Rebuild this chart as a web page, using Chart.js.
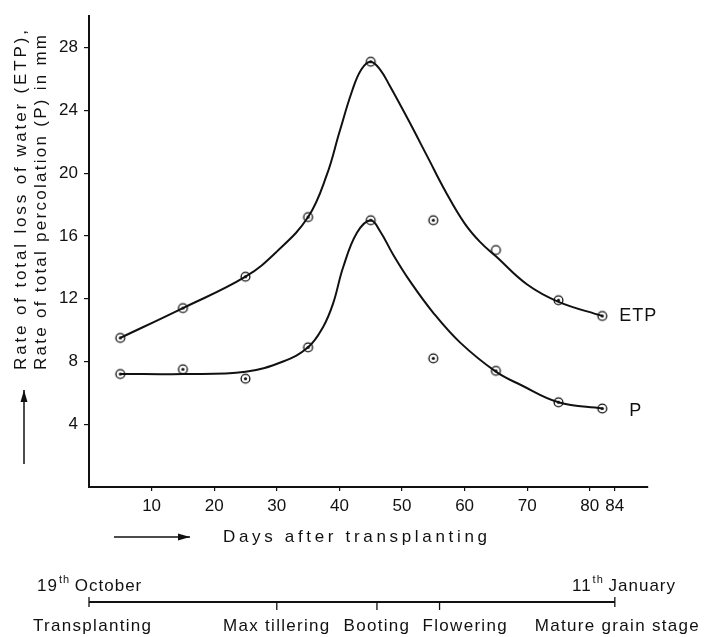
<!DOCTYPE html>
<html>
<head>
<meta charset="utf-8">
<script src="https://cdn.jsdelivr.net/npm/chart.js@4"></script>
<style>
  html, body { margin: 0; padding: 0; background: #fff; }
  canvas { display: block; }
</style>
</head>
<body>
<canvas id="chart" width="705" height="637"></canvas>
<script>
// observed values (days after transplanting)
const days = [5, 15, 25, 35, 45, 55, 65, 75, 82];
const etpObserved = [9.5, 11.4, 13.4, 17.2, 27.1, 17.0, 15.1, 11.9, 10.9];
const pObserved = [7.2, 7.5, 6.9, 8.9, 17.0, 8.2, 7.4, 5.4, 5.0];
const etpOpenDays = [65];

// fitted curves
const etpCurveDays = [5, 15, 25, 30, 35, 38, 40, 42, 43.5, 45, 46.5, 48, 51, 54, 57, 60, 62.5, 65, 70, 75, 82];
const etpCurveVals = [9.5, 11.4, 13.4, 15.0, 17.2, 19.9, 22.6, 25.2, 26.6, 27.1, 26.6, 25.6, 23.4, 21.1, 18.8, 16.8, 15.6, 14.7, 12.9, 11.8, 10.9];
const pCurveDays = [5, 15, 25, 31, 35, 37.4, 39, 40.6, 42.8, 45, 46.5, 48.6, 51.3, 55, 59.3, 65, 69, 75, 82];
const pCurveVals = [7.2, 7.2, 7.35, 8.0, 8.9, 10.2, 11.7, 14.0, 16.2, 17.0, 16.3, 14.8, 13.1, 11.1, 9.2, 7.35, 6.5, 5.4, 5.0];

const xTicks = [10, 20, 30, 40, 50, 60, 70, 80, 84];
const yTicks = [4, 8, 12, 16, 20, 24, 28];

const stageDays = [0, 30, 46, 56, 84];
const stageNames = ["Transplanting", "Max tillering", "Booting", "Flowering", "Mature grain stage"];
const startDate = ["19", "th", "October"];
const endDate = ["11", "th", "January"];

const ink = "#111";
const FONT = '"Liberation Sans", Arial, sans-serif';

function pts(xs, ys) {
  return xs.map((x, i) => ({ x: x, y: ys[i] }));
}

function marker(dot) {
  const c = document.createElement("canvas");
  c.width = 13; c.height = 13;
  const g = c.getContext("2d");
  g.strokeStyle = ink;
  g.lineWidth = 1.3;
  g.beginPath(); g.arc(6.5, 6.5, 4.4, 0, Math.PI * 2); g.stroke();
  if (dot) {
    g.fillStyle = ink;
    g.beginPath(); g.arc(6.5, 6.5, 1.6, 0, Math.PI * 2); g.fill();
  }
  return c;
}
const dotMark = marker(true);
const openMark = marker(false);

function arrow(ctx, x1, y1, x2, y2) {
  const a = Math.atan2(y2 - y1, x2 - x1);
  ctx.lineWidth = 1.5;
  ctx.beginPath(); ctx.moveTo(x1, y1); ctx.lineTo(x2, y2); ctx.stroke();
  ctx.beginPath();
  ctx.moveTo(x2, y2);
  ctx.lineTo(x2 - 12 * Math.cos(a) + 3.5 * Math.sin(a), y2 - 12 * Math.sin(a) - 3.5 * Math.cos(a));
  ctx.lineTo(x2 - 12 * Math.cos(a) - 3.5 * Math.sin(a), y2 - 12 * Math.sin(a) + 3.5 * Math.cos(a));
  ctx.closePath(); ctx.fill();
}

// spread the letters so the text covers a given width
function spreadText(ctx, text, x, y, width) {
  ctx.letterSpacing = "0px";
  const w = ctx.measureText(text).width;
  ctx.letterSpacing = ((width - w) / (text.length - 1)) + "px";
  ctx.fillText(text, x, y);
  ctx.letterSpacing = "0px";
}

// "19th October" style: number, raised suffix, word
function dateText(ctx, parts, x, y, alignRight) {
  const big = "17px " + FONT, small = "11px " + FONT;
  ctx.font = big; const w0 = ctx.measureText(parts[0]).width;
  ctx.font = small; const w1 = ctx.measureText(parts[1]).width;
  ctx.font = big; const w2 = ctx.measureText(" " + parts[2]).width;
  let sx = alignRight ? x - (w0 + w1 + w2) : x;
  ctx.textAlign = "left";
  ctx.fillText(parts[0], sx, y);
  ctx.font = small; ctx.fillText(parts[1], sx + w0 + 1, y - 6);
  ctx.font = big; ctx.fillText(" " + parts[2], sx + w0 + w1, y);
}

const notes = {
  id: "notes",
  afterDraw(chart) {
    const { ctx, scales: { x, y } } = chart;
    ctx.save();
    ctx.fillStyle = ink;
    ctx.strokeStyle = ink;
    ctx.textBaseline = "middle";

    // y axis title, two rotated lines
    ctx.save();
    ctx.font = "17px " + FONT;
    ctx.translate(21, 370);
    ctx.rotate(-Math.PI / 2);
    ctx.textAlign = "left";
    spreadText(ctx, "Rate of total loss of water (ETP),", 0, 0, 340);
    spreadText(ctx, "Rate of total percolation (P) in mm", 0, 20, 335);
    ctx.restore();
    arrow(ctx, 24, 464, 24, 390);

    // x axis title
    ctx.font = "17px " + FONT;
    ctx.textAlign = "left";
    spreadText(ctx, "Days after transplanting", 223, 537, 264);
    arrow(ctx, 114, 537, 190, 537);

    // series labels next to the last points
    ctx.font = "18px " + FONT;
    ctx.letterSpacing = "1px";
    const last = days.length - 1;
    ctx.fillText("ETP", x.getPixelForValue(days[last]) + 17, y.getPixelForValue(etpObserved[last]));
    ctx.fillText("P", x.getPixelForValue(days[last]) + 27, y.getPixelForValue(pObserved[last]) + 2);
    ctx.letterSpacing = "0px";

    // crop calendar below the chart
    const ly = 602;
    const x0 = x.getPixelForValue(stageDays[0]);
    const x1 = x.getPixelForValue(stageDays[stageDays.length - 1]);
    ctx.lineWidth = 1.8;
    ctx.beginPath(); ctx.moveTo(x0, ly); ctx.lineTo(x1, ly); ctx.stroke();
    ctx.lineWidth = 1.3;
    stageDays.forEach((d, i) => {
      const px = x.getPixelForValue(d);
      const end = i === 0 || i === stageDays.length - 1;
      ctx.beginPath();
      ctx.moveTo(px, end ? ly - 5 : ly);
      ctx.lineTo(px, ly + (end ? 5 : 8));
      ctx.stroke();
    });
    ctx.font = "17px " + FONT;
    ctx.letterSpacing = "1.3px";
    stageNames.forEach((name, i) => {
      const px = x.getPixelForValue(stageDays[i]);
      if (i === 0) { ctx.textAlign = "left"; ctx.fillText(name, 33, 626); }
      else if (i === 3) { ctx.textAlign = "left"; ctx.fillText(name, px - 17, 626); }
      else if (i === stageDays.length - 1) { ctx.textAlign = "right"; ctx.fillText(name, 700, 626); }
      else { ctx.textAlign = "center"; ctx.fillText(name, px, 626); }
    });
    ctx.letterSpacing = "1px";
    dateText(ctx, startDate, 37, 586, false);
    dateText(ctx, endDate, 676, 586, true);
    ctx.restore();
  }
};

const lineStyle = {
  type: "line",
  borderColor: ink,
  borderWidth: 2,
  pointRadius: 0,
  fill: false,
  tension: 0.4,
  order: 2
};

new Chart(document.getElementById("chart"), {
  data: {
    datasets: [
      Object.assign({ label: "ETP curve", data: pts(etpCurveDays, etpCurveVals) }, lineStyle),
      Object.assign({ label: "P curve", data: pts(pCurveDays, pCurveVals) }, lineStyle),
      {
        type: "scatter", label: "ETP", order: 1,
        data: pts(days, etpObserved),
        pointStyle: c => etpOpenDays.includes(days[c.dataIndex]) ? openMark : dotMark,
        pointRadius: 5
      },
      {
        type: "scatter", label: "P", order: 1,
        data: pts(days, pObserved),
        pointStyle: dotMark,
        pointRadius: 5
      }
    ]
  },
  options: {
    responsive: false,
    animation: false,
    layout: { padding: { top: 7, right: 57, left: 0, bottom: 0 } },
    plugins: { legend: { display: false }, tooltip: { enabled: false } },
    scales: {
      x: {
        type: "linear", min: 0, max: 89.3,
        afterBuildTicks: s => { s.ticks = xTicks.map(v => ({ value: v })); },
        afterFit: s => { s.height = 150; },
        grid: { drawOnChartArea: false, tickLength: 4, color: ink, lineWidth: 1.2 },
        border: { color: ink, width: 2 },
        ticks: { color: ink, font: { family: FONT, size: 17 }, padding: 5, maxRotation: 0, autoSkip: false }
      },
      y: {
        min: 0, max: 30,
        afterBuildTicks: s => { s.ticks = yTicks.map(v => ({ value: v })); },
        afterFit: s => { s.width = 89; },
        grid: { drawOnChartArea: false, tickLength: 5, color: ink, lineWidth: 1.2 },
        border: { color: ink, width: 2 },
        ticks: { color: ink, font: { family: FONT, size: 17 }, padding: 6 }
      }
    }
  },
  plugins: [notes]
});
</script>
</body>
</html>
